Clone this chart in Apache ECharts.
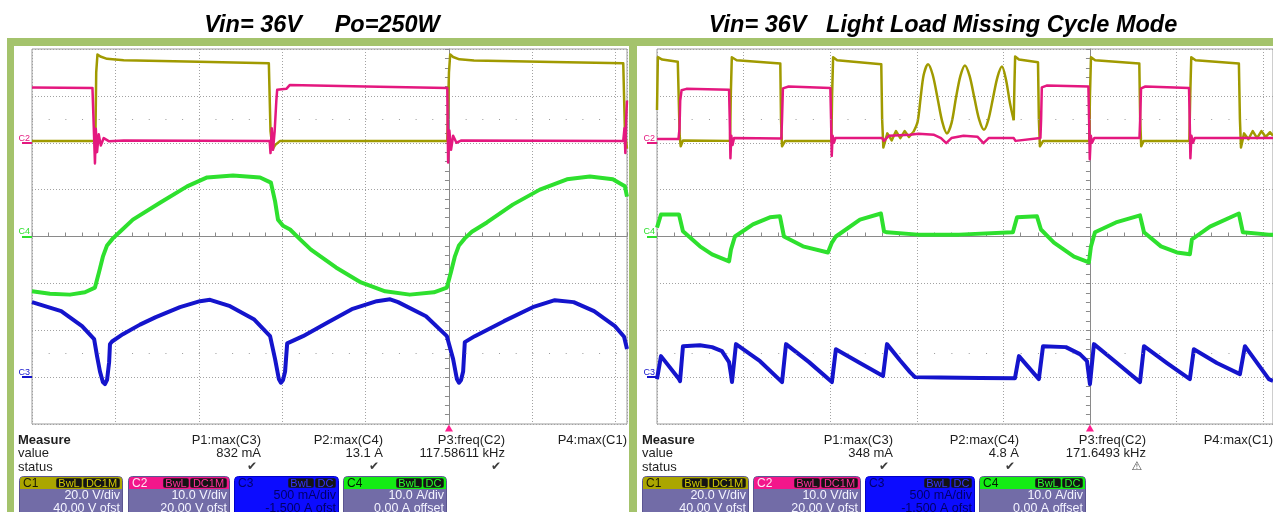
<!DOCTYPE html>
<html><head><meta charset="utf-8">
<script src="https://cdn.jsdelivr.net/npm/echarts@6/dist/echarts.min.js"></script>
<style>html,body{margin:0;padding:0;background:#fff;}#chart{width:1273px;height:512px;}</style>
</head><body><div id="chart"></div>
<script>
// ================= DATA =================
const titles = ['Vin= 36V     Po=250W', 'Vin= 36V   Light Load Missing Cycle Mode'];
const channelNames = ['C1', 'C2', 'C3', 'C4'];
const chPerDiv = [20, 10, 500, 10];          // V/div, V/div, mA/div, A/div
const chOffset = [40, 20, -1500, 0];         // V, V, mA, A
const badgeScale = ['20.0 V/div', '10.0 V/div', '500 mA/div', '10.0 A/div'];
const badgeOffset = ['40.00 V ofst', '20.00 V ofst', '-1.500 A ofst', '0.00 A offset'];
const badgeTags = [['BwL', 'DC1M'], ['BwL', 'DC1M'], ['BwL', 'DC'], ['BwL', 'DC']];
const measureHeaders = ['P1:max(C3)', 'P2:max(C4)', 'P3:freq(C2)', 'P4:max(C1)'];
const measureRows = ['Measure', 'value', 'status'];
const leftValues = ['832 mA', '13.1 A', '117.58611 kHz', ''];
const rightValues = ['348 mA', '4.8 A', '171.6493 kHz', ''];
const leftStatus = ['\u2714', '\u2714', '\u2714', ''];
const rightStatus = ['\u2714', '\u2714', '\u26A0', ''];
const timePerDiv = [2, 5];                   // µs/div (left, right)

// time in µs relative to trigger; C1/C2 in V, C3 in mA, C4 in A
// ---- Left: Vin=36V Po=250W ----
const leftC1 = [[-10,0.8],[-8.48,0.8],[-8.46,30],[-8.43,37.7],[-8.36,36.8],[-8.2,35.8],[-7.8,35.2],[-6.0,34.6],[-4.32,33.9],
 [-4.28,5],[-4.23,-2.8],[-4.17,-1.0],[-4.05,0.8],[-0.04,0.8],[0,30],[0.03,37.7],[0.1,36.6],[0.25,35.6],[0.6,35.1],[2.5,34.5],
 [4.18,33.9],[4.22,5],[4.27,-2.5]];
const leftC2 = [[-10,11.8],[-8.55,11.7],[-8.51,11.5],[-8.49,-4.4],[-8.47,3.0],[-8.44,-2.0],[-8.40,1.8],[-8.35,-0.6],[-8.28,1.0],
 [-8.15,0.3],[-7.8,0.5],[-4.30,0.4],[-4.28,-2.2],[-4.25,3.1],[-4.22,-1.5],[-4.18,2.5],[-4.14,9.0],[-4.12,11.3],[-3.9,11.5],
 [-3.82,12.3],[-2.0,12.0],[-0.04,11.7],[-0.02,-4.2],[0.01,2.6],[0.05,-1.5],[0.10,1.5],[0.18,0.0],[0.3,0.5],[4.18,0.4],
 [4.21,3.1],[4.23,-2.2],[4.25,5],[4.27,9]];
const leftC4 = [[-10,-11.7],[-9.57,-12.2],[-9.09,-12.4],[-8.73,-11.9],[-8.49,-10.9],[-8.39,-7.5],[-8.30,-4.3],[-8.20,-1.9],
 [-8.06,-0.4],[-7.89,1.0],[-7.58,3.6],[-6.93,7.2],[-6.28,10.7],[-5.80,12.6],[-5.18,13.0],[-4.53,12.6],[-4.27,11.5],[-4.17,7.5],
 [-4.10,3.6],[-3.98,2.3],[-3.81,1.5],[-3.57,-0.6],[-3.31,-2.8],[-2.71,-6.6],[-2.11,-9.8],[-1.53,-11.7],[-0.94,-12.4],
 [-0.36,-11.9],[-0.05,-10.9],[0.05,-7.5],[0.14,-4.3],[0.24,-1.9],[0.38,-0.4],[0.55,1.0],[0.91,3.0],[1.53,6.8],[2.18,10.0],
 [2.83,12.2],[3.38,12.8],[3.93,12.2],[4.22,10.7],[4.27,8.5]];
const leftC3 = [[-10,800],[-9.30,704],[-8.80,544],[-8.51,405],[-8.44,224],[-8.37,60],[-8.30,-53],[-8.25,-75],[-8.20,-30],
 [-8.15,160],[-8.13,352],[-8.08,380],[-7.82,458],[-7.41,560],[-7.03,640],[-6.45,746],[-5.97,810],[-5.73,825],[-5.25,757],
 [-4.68,618],[-4.29,437],[-4.17,192],[-4.08,-20],[-4.03,-60],[-3.98,-30],[-3.93,60],[-3.88,360],[-3.84,373],[-3.50,437],
 [-2.90,586],[-2.33,725],[-1.73,810],[-1.41,830],[-1.22,800],[-0.55,650],[-0.05,437],[0.10,192],[0.19,-20],[0.24,-60],
 [0.29,-30],[0.34,60],[0.38,373],[0.62,437],[1.32,597],[2.01,746],[2.54,821],[2.99,800],[3.48,704],[3.98,544],[4.20,430],[4.27,300]];

// ---- Right: Light load missing cycle mode ----
const rightC1a = [[-25,14],[-24.95,36.5],[-24.7,35.5],[-23.8,34.6],[-23.74,34.3],[-23.69,3],[-23.63,-1.5],[-23.5,1.0],
 [-20.78,0.8],[-20.74,20],[-20.68,36.5],[-20.4,35.2],[-17.88,33.8],[-17.84,10],[-17.78,-1.5],[-17.6,0.8],[-14.93,0.8],
 [-14.89,20],[-14.83,36.5],[-14.6,35.2],[-12.05,33.5],[-12.0,10],[-11.93,-2],[-11.7,4],[-11.45,1],[-11.2,5],[-10.95,2],
 [-10.7,5],[-10.45,2.5],[-10.2,4.5]];
const rightC1ring = [[-10.2,4.5],[-9.95,9],[-9.78,19],[-9.6,29],[-9.35,33.5],[-9.08,29],[-8.8,19],[-8.53,9],[-8.26,4],
 [-7.99,8.5],[-7.74,19],[-7.48,28.5],[-7.22,33],[-6.95,28.5],[-6.67,19],[-6.4,10],[-6.12,5.5],[-5.86,10],[-5.6,19],
 [-5.34,28],[-5.08,32.5],[-4.85,27],[-4.62,17],[-4.4,9.6]];
const rightC1b = [[-4.4,9.6],[-4.36,25],[-4.32,36.8],[-4.1,35.5],[-3.0,34.3],[-2.95,10],[-2.89,-1.5],[-2.7,0.8],[-0.04,0.8],
 [0,20],[0.06,36.5],[0.3,35.2],[2.85,33.8],[2.9,10],[2.96,-1.5],[3.1,0.8],[5.74,0.8],[5.79,20],[5.85,36.5],[6.1,35.2],
 [8.6,33.8],[8.66,10],[8.72,-2],[8.9,4],[9.15,1.5],[9.4,5],[9.65,2],[9.9,5],[10.15,2.5],[10.4,4.5],[10.57,3]];
const rightC2 = [[-25,0.8],[-23.76,0.8],[-23.70,3],[-23.66,9],[-23.58,11.2],[-23.3,11.5],[-20.84,11.3],[-20.80,5],
 [-20.76,-3.3],[-20.71,1.5],[-20.64,-0.5],[-20.55,1.0],[-17.82,0.9],[-17.78,5],[-17.73,11.6],[-17.4,12.0],[-14.99,11.7],
 [-14.95,5],[-14.91,-2.8],[-14.86,1.5],[-14.78,0.0],[-14.7,1.0],[-12.0,1.0],[-11.9,0.4],[-11.6,1.5],[-10.4,1.7],[-9.9,1.9],
 [-9.0,1.7],[-8.6,1.0],[-8.3,-0.1],[-8.0,1.0],[-7.3,1.5],[-6.5,1.3],[-6.15,-0.1],[-5.85,1.0],[-4.4,1.0],[-4.3,0.4],
 [-2.86,1.0],[-2.82,5],[-2.78,11.8],[-2.5,12.2],[-0.09,12.0],[-0.05,5],[-0.01,-3.5],[0.05,1.5],[0.12,0.0],[0.25,1.0],
 [2.86,1.0],[2.9,5],[2.95,11.6],[3.2,12.0],[5.72,11.7],[5.76,5],[5.8,-3.3],[5.86,1.5],[5.95,0.0],[6.05,1.0],[10.57,1.0]];
const rightC4 = [[-25,1.9],[-24.77,4.7],[-23.73,4.7],[-23.50,1.1],[-22.52,-2.1],[-21.82,-3.8],[-20.84,-5.3],[-20.73,-2.8],
 [-20.50,0],[-19.46,2.6],[-18.48,4.1],[-17.90,4.3],[-17.67,0],[-16.57,-2.1],[-15.13,-3.4],[-14.90,-1.3],[-14.67,0],
 [-13.28,3.6],[-12.07,4.9],[-11.89,1.1],[-11.72,0.9],[-9.93,0.4],[-7.56,0.4],[-4.45,0.9],[-4.21,4.1],[-3.06,4.3],
 [-2.83,1.5],[-2.08,-1.3],[-0.92,-4.3],[-0.06,-5.5],[0.06,-2.1],[0.29,0.9],[1.50,3.0],[2.89,4.5],[3.12,0.9],[4.10,-2.1],
 [5.02,-3.4],[5.77,-3.8],[5.89,-0.6],[6.93,2.1],[8.60,4.9],[8.83,0.9],[10.33,0.4],[10.57,0.4]];
const rightC3 = [[-25,-21],[-24.77,224],[-23.73,-21],[-23.67,-43],[-23.50,330],[-22.52,341],[-21.82,320],[-21.25,277],
 [-20.84,160],[-20.73,32],[-20.67,-53],[-20.44,352],[-19.05,170],[-17.78,-53],[-17.55,352],[-16.22,160],[-14.90,-53],
 [-14.67,298],[-13.28,150],[-11.95,11],[-11.72,352],[-10.97,180],[-10.39,53],[-10.10,0],[-8.66,-5],[-6.35,-10],[-4.33,-11],
 [-4.10,224],[-2.95,-21],[-2.71,330],[-1.39,320],[-0.58,245],[-0.17,170],[0.0,-75],[0.23,352],[1.56,150],[2.89,-53],
 [3.12,330],[4.45,150],[5.77,-21],[6.00,298],[7.33,150],[8.66,32],[8.95,330],[10.33,-21],[10.57,-40]];

// ================= STYLE / LAYOUT =================
const traceColor = ['#a09a00', '#e4187f', '#1414cc', '#2ee02e'];
const headColor = ['#aba600', '#f3168b', '#0c0cff', '#14ec14'];
const nameColor = ['#1a1a00', '#ffe6f3', '#00006e', '#002000'];
const tagTextColor = ['#d2ca00', '#ff2f9a', '#3535ff', '#2bff2b'];
const FONT = '"Liberation Sans", Arial, sans-serif';
const GRID_CLR = '#a2a2a2';
const AXIS_CLR = '#8a8a8a';
const grids = [
  { left: 32, top: 49, width: 595, height: 375 },
  { left: 657, top: 49, width: 616, height: 375 }
];
const xRanges = [[-10, 4.27], [-25, 10.57]];

function chRange(i) {
  const center = -chOffset[i];
  return [center - 4 * chPerDiv[i], center + 4 * chPerDiv[i]];
}

const xAxes = [], yAxes = [];
grids.forEach((g, gi) => {
  xAxes.push({
    gridIndex: gi, type: 'value', position: 'bottom', min: xRanges[gi][0], max: xRanges[gi][1], interval: timePerDiv[gi],
    axisLine: { show: true, onZero: true, onZeroAxisIndex: gi * 5, lineStyle: { color: AXIS_CLR, width: 1 } },
    axisTick: { show: true, inside: true, length: 4, lineStyle: { color: AXIS_CLR } },
    minorTick: { show: true, splitNumber: 5, length: 4, lineStyle: { color: AXIS_CLR } },
    axisLabel: { show: false },
    splitLine: { show: true, lineStyle: { color: GRID_CLR, type: [1, 2], width: 1 } }
  });
  // division axis (grid + centre cross)
  yAxes.push({
    gridIndex: gi, type: 'value', position: 'left', min: -4, max: 4, interval: 1,
    axisLine: { show: true, onZero: true, onZeroAxisIndex: gi, lineStyle: { color: AXIS_CLR, width: 1 } },
    axisTick: { show: true, inside: false, length: 4, lineStyle: { color: AXIS_CLR } },
    minorTick: { show: true, splitNumber: 5, length: 4, lineStyle: { color: AXIS_CLR } },
    axisLabel: { show: false },
    splitLine: { show: true, lineStyle: { color: GRID_CLR, type: [1, 2], width: 1 } }
  });
  // channel axes
  for (let c = 0; c < 4; c++) {
    const r = chRange(c);
    const showMark = c !== 0;
    yAxes.push({
      gridIndex: gi, type: 'value', position: 'left', min: r[0], max: r[1], interval: chPerDiv[c],
      axisLine: { show: false, onZero: false },
      splitLine: { show: false },
      axisTick: { show: showMark, customValues: [0], inside: false, length: 10, lineStyle: { color: traceColor[c], width: 2 } },
      axisLabel: {
        show: showMark, customValues: [0], formatter: () => channelNames[c], color: traceColor[c],
        fontSize: 9, fontFamily: FONT, margin: 2, verticalAlign: 'bottom', align: 'right'
      }
    });
  }
});

function lineSeries(data, gi, c, width, extra) {
  return Object.assign({
    type: 'line', data, xAxisIndex: gi, yAxisIndex: gi * 5 + 1 + c, showSymbol: false, symbol: 'none',
    silent: true, animation: false, clip: true,
    lineStyle: { color: traceColor[c], width, join: 'round' }, emphasis: { disabled: true }
  }, extra || {});
}

const dotRows = (gi) => ({
  silent: true, symbol: ['none', 'none'], label: { show: false },
  lineStyle: { color: '#9a9a9a', width: 1, type: [1, grids[gi].width / (xRanges[gi][1] - xRanges[gi][0]) * timePerDiv[gi] / 5 - 1] },
  data: [{ yAxis: 25 }, { yAxis: -25 }]
});
const trig = {
  silent: true, symbol: 'triangle', symbolSize: [8, 7], symbolOffset: [0, 4], label: { show: false },
  itemStyle: { color: '#ff1f8f' }, data: [{ coord: [0, chRange(1)[0]] }]
};

const series = [
  lineSeries(leftC1, 0, 0, 2.5),
  lineSeries(leftC2, 0, 1, 2.5, { markPoint: trig }),
  lineSeries(leftC4, 0, 3, 4, { markLine: dotRows(0) }),
  lineSeries(leftC3, 0, 2, 4),
  lineSeries(rightC1a, 1, 0, 2.5),
  lineSeries(rightC1ring, 1, 0, 2.5, { smooth: 0.3 }),
  lineSeries(rightC1b, 1, 0, 2.5),
  lineSeries(rightC2, 1, 1, 2.5, { markPoint: trig }),
  lineSeries(rightC4, 1, 3, 4, { markLine: dotRows(1) }),
  lineSeries(rightC3, 1, 2, 4)
];

// ---------- graphics: frame, titles, measure table, channel badges ----------
const G = [];
const FRAME = '#a4c36c';
G.push({ type: 'rect', z: 50, shape: { x: 7, y: 38, width: 1266, height: 8 }, style: { fill: FRAME } });
G.push({ type: 'rect', z: 50, shape: { x: 7, y: 38, width: 7, height: 480 }, style: { fill: FRAME } });
G.push({ type: 'rect', z: 50, shape: { x: 629, y: 38, width: 8, height: 480 }, style: { fill: FRAME } });

const titleX = [322, 943];
titles.forEach((t, i) => G.push({ type: 'text', z: 50, x: titleX[i], y: 26,
  style: { text: t, font: 'italic bold 23.5px ' + FONT, fill: '#000', align: 'center', verticalAlign: 'middle' } }));

const tables = [
  { x0: 18, cols: [261, 383, 505, 627], values: leftValues, status: leftStatus },
  { x0: 642, cols: [893, 1019, 1146, 1273], values: rightValues, status: rightStatus }
];
const rowY = [440, 453, 467];
tables.forEach(tb => {
  measureRows.forEach((r, k) => G.push({ type: 'text', z: 50, x: tb.x0, y: rowY[k],
    style: { text: r, font: (k === 0 ? 'bold ' : '') + '13px ' + FONT, fill: '#1e1e1e', verticalAlign: 'middle' } }));
  tb.cols.forEach((cx, k) => {
    G.push({ type: 'text', z: 50, x: cx, y: rowY[0], style: { text: measureHeaders[k], font: '13px ' + FONT, fill: '#1e1e1e', align: 'right', verticalAlign: 'middle' } });
    if (tb.values[k]) G.push({ type: 'text', z: 50, x: cx, y: rowY[1], style: { text: tb.values[k], font: '13px ' + FONT, fill: '#1e1e1e', align: 'right', verticalAlign: 'middle' } });
    if (tb.status[k]) G.push({ type: 'text', z: 50, x: cx - 9, y: rowY[2], style: { text: tb.status[k], font: '12px "DejaVu Sans"', fill: '#3c3c3c', align: 'center', verticalAlign: 'middle' } });
  });
});

const badgeX = [
  [[19, 122], [128, 229], [234, 338], [343, 446]],
  [[642, 748], [753, 860], [865, 974], [979, 1085]]
];
const tagW = { 'BwL': 26, 'DC1M': 37, 'DC': 21 };
badgeX.forEach(panel => panel.forEach(([x1, x2], i) => {
  const top = 476;
  const isC3 = i === 2;
  G.push({ type: 'rect', z: 50, shape: { x: x1 + 0.5, y: top + 0.5, width: x2 - x1, height: 50, r: 4 },
    style: { fill: isC3 ? headColor[2] : '#726ca7', stroke: isC3 ? '#0000c8' : '#5b5591', lineWidth: 1 } });
  G.push({ type: 'rect', z: 51, shape: { x: x1 + 1, y: top + 1, width: x2 - x1 - 1, height: 12, r: [3, 3, 0, 0] },
    style: { fill: headColor[i] } });
  G.push({ type: 'text', z: 52, x: x1 + 4, y: top + 7.5,
    style: { text: channelNames[i], font: '12px ' + FONT, fill: nameColor[i], verticalAlign: 'middle' } });
  let rx = x2 - 2;
  const tags = badgeTags[i];
  for (let k = tags.length - 1; k >= 0; k--) {
    const w = tagW[tags[k]];
    G.push({ type: 'rect', z: 52, shape: { x: rx - w, y: top + 2, width: w, height: 10, r: 2 },
      style: { fill: '#141414', stroke: headColor[i], lineWidth: 0.5 } });
    G.push({ type: 'text', z: 53, x: rx - w / 2, y: top + 7.5,
      style: { text: tags[k], font: '11px ' + FONT, fill: tagTextColor[i], align: 'center', verticalAlign: 'middle' } });
    rx -= w + 1;
  }
  const bodyFill = isC3 ? '#000066' : '#f4f4ff';
  G.push({ type: 'text', z: 52, x: x2 - 2, y: 496, style: { text: badgeScale[i], font: '12.5px ' + FONT, fill: bodyFill, align: 'right', verticalAlign: 'middle' } });
  G.push({ type: 'text', z: 52, x: x2 - 2, y: 508.5, style: { text: badgeOffset[i], font: '12.5px ' + FONT, fill: bodyFill, align: 'right', verticalAlign: 'middle' } });
}));

const option = {
  animation: false,
  backgroundColor: '#ffffff',
  grid: grids.map(g => Object.assign({ show: true, borderColor: '#9c9c9c', borderWidth: 1, backgroundColor: '#ffffff' }, g)),
  xAxis: xAxes,
  yAxis: yAxes,
  series,
  graphic: G
};
const chart = echarts.init(document.getElementById('chart'), null, { renderer: 'canvas' });
chart.setOption(option);
</script></body></html>
